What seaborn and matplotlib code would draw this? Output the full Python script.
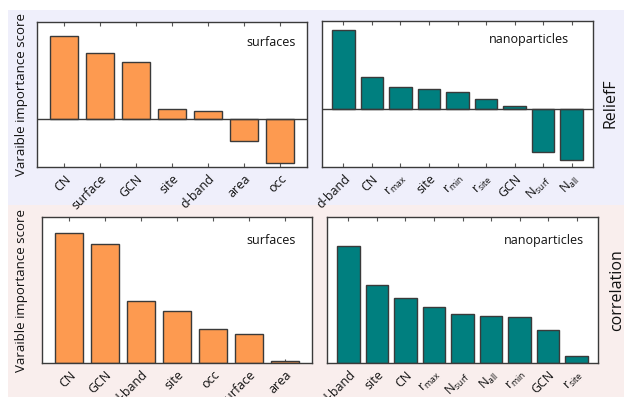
import matplotlib
matplotlib.use("Agg")
import matplotlib.pyplot as plt
from matplotlib.patches import Rectangle
import seaborn as sns
import pandas as pd

# ReliefF scores
relief_surf_features = ["CN", "surface", "GCN", "site", "d-band", "area", "occ"]
relief_surf_scores = [83, 66, 57, 10, 8, -22, -44]

relief_np_features = ["d-band", "CN", r"r$_\mathrm{max}$", "site", r"r$_\mathrm{min}$",
                      r"r$_\mathrm{site}$", "GCN", r"N$_\mathrm{surf}$", r"N$_\mathrm{all}$"]
relief_np_scores = [79, 32, 22, 20, 17, 10, 3, -43, -51]

# correlation scores
corr_surf_features = ["CN", "GCN", "d-band", "site", "occ", "surface", "area"]
corr_surf_scores = [130, 119, 62, 52, 34, 29, 2]

corr_np_features = ["d-band", "site", "CN", r"r$_\mathrm{max}$", r"N$_\mathrm{surf}$",
                    r"N$_\mathrm{all}$", r"r$_\mathrm{min}$", "GCN", r"r$_\mathrm{site}$"]
corr_np_scores = [117, 78, 65, 56, 49, 47, 46, 33, 7]

ORANGE = "#fd9a50"
TEAL = "#007f7f"
EDGE = "#3a3a3a"
FONT = "Open Sans"

sns.set_style("white")
plt.rcParams["font.family"] = [FONT, "DejaVu Sans"]
plt.rcParams["mathtext.fontset"] = "custom"
plt.rcParams["mathtext.rm"] = FONT
plt.rcParams["mathtext.it"] = FONT + ":italic"
plt.rcParams["mathtext.bf"] = FONT + ":bold"

W, H = 624, 397
fig = plt.figure(figsize=(W / 100, H / 100), dpi=100)
fig.patch.set_facecolor("white")

# shaded row bands
fig.patches.append(Rectangle((8 / W, 1 - 205 / H), 1, (205 - 10) / H,
                             transform=fig.transFigure, facecolor="#efeffb",
                             edgecolor="none", zorder=-10))
fig.patches.append(Rectangle((8 / W, 0), 1, 1 - 205 / H,
                             transform=fig.transFigure, facecolor="#f9eeed",
                             edgecolor="none", zorder=-10))


def px_axes(left, top, right, bottom):
    return fig.add_axes([left / W, 1 - bottom / H, (right - left) / W, (bottom - top) / H])


panels = [
    (px_axes(37, 22, 307, 167), relief_surf_features, relief_surf_scores, ORANGE,
     (-48, 97), "surfaces", (0.96, 0.862), True, True),
    (px_axes(322, 21, 593, 167), relief_np_features, relief_np_scores, TEAL,
     (-58, 88), "nanoparticles", (0.91, 0.87), True, False),
    (px_axes(42, 217, 312, 363), corr_surf_features, corr_surf_scores, ORANGE,
     (0, 146), "surfaces", (0.94, 0.84), False, True),
    (px_axes(327, 217, 598, 363), corr_np_features, corr_np_scores, TEAL,
     (0, 146), "nanoparticles", (0.95, 0.84), False, False),
]

for ax, feats, scores, color, ylim, title, tpos, zero_line, show_ylabel in panels:
    df = pd.DataFrame({"feature": feats, "score": scores})
    sns.barplot(data=df, x="feature", y="score", order=feats, color=color,
                edgecolor=EDGE, linewidth=1.0, width=0.8, saturation=1, ax=ax)
    ax.set_xlim(-0.75, len(feats) - 0.25)
    ax.set_ylim(*ylim)
    if zero_line:
        ax.axhline(0, color=EDGE, lw=1.0, zorder=3)
    ax.set_facecolor("white")
    for sp in ax.spines.values():
        sp.set_visible(True)
        sp.set_color(EDGE)
        sp.set_linewidth(1.0)
    ax.set_yticks([])
    ax.tick_params(axis="x", which="both", direction="in", top=True, bottom=True,
                   length=3, width=0.8, color="#555555", labelsize=9, pad=4,
                   labelcolor="#111111")
    plt.setp(ax.get_xticklabels(), rotation=45, ha="right", rotation_mode="anchor")
    ax.set_xlabel("")
    if show_ylabel:
        ax.set_ylabel("Varaible importance score", fontsize=9.5, color="#111111")
    else:
        ax.set_ylabel("")
    ax.text(tpos[0], tpos[1], title, transform=ax.transAxes, ha="right",
            va="center", fontsize=9, color="#111111")

panels[0][0].yaxis.set_label_coords(-0.035, 0.5)
panels[2][0].yaxis.set_label_coords(-0.053, 0.5)

fig.text(610 / W, 1 - 103 / H, "ReliefF", rotation=90, ha="center", va="center",
         fontsize=11.5, color="#111111")
fig.text(617 / W, 1 - 290 / H, "correlation", rotation=90, ha="center", va="center",
         fontsize=11.5, color="#111111")

fig.savefig("out.png", dpi=100)
